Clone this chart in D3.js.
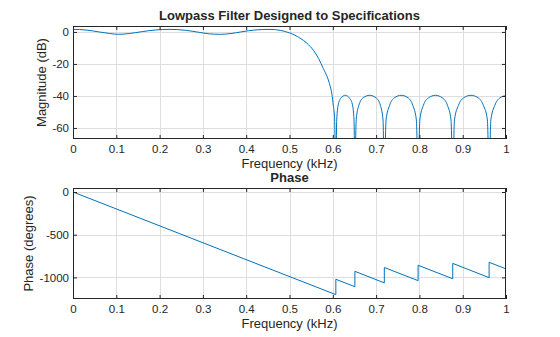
<!DOCTYPE html>
<html>
<head>
<meta charset="utf-8">
<script src="https://cdn.jsdelivr.net/npm/d3@7"></script>
<style>
  html, body { margin: 0; padding: 0; background: #fff; }
  svg { display: block; font-family: "Liberation Sans", Arial, Helvetica, sans-serif; }
</style>
</head>
<body>
<svg id="chart" width="560" height="337"></svg>
<script>
// Magnitude response (dB) sampled along frequency (kHz)
const magFreq = [
  0, 0.03, 0.06, 0.085, 0.105, 0.13, 0.16, 0.19, 0.224, 0.26, 0.29, 0.315, 0.34, 0.365, 0.39, 0.42, 0.455, 0.48, 0.5,
  0.524, 0.54, 0.555, 0.567, 0.578, 0.587, 0.594, 0.598, 0.601, 0.604, 0.607,
  0.609, 0.613, 0.619, 0.629, 0.638, 0.645, 0.649, 0.651,
  0.654, 0.660, 0.670, 0.685, 0.700, 0.710, 0.716, 0.719,
  0.723, 0.731, 0.742, 0.758, 0.774, 0.785, 0.793, 0.797,
  0.801, 0.809, 0.821, 0.837, 0.853, 0.865, 0.873, 0.877,
  0.881, 0.890, 0.902, 0.919, 0.936, 0.948, 0.957, 0.961,
  0.965, 0.974, 0.986, 1.0
];
const magDb = [
  1.6, 1.2, 0.0, -1.0, -1.5, -1.0, 0.2, 1.2, 1.6, 1.0, -0.2, -1.2, -1.5, -1.0, 0.1, 1.2, 1.6, 0.9, -0.6,
  -3.8, -7.0, -11.4, -16.5, -22.8, -28.0, -34.0, -39.0, -45.6, -53.0, -90,
  -55, -45, -41.2, -39.6, -41.2, -45, -55, -90,
  -55, -46, -41.2, -39.6, -41.2, -46, -55, -90,
  -55, -46, -41.2, -39.6, -41.2, -46, -55, -90,
  -55, -46, -41.2, -39.6, -41.2, -46, -55, -90,
  -55, -46, -41.2, -39.6, -41.2, -46, -55, -90,
  -55, -46, -41.2, -39.8
];

// Phase response (degrees): linear segments with +180 jumps at the stopband zeros
const phaseFreq = [0, 0.607, 0.607, 0.651, 0.651, 0.719, 0.719, 0.797, 0.797, 0.877, 0.877, 0.961, 0.961, 1.0];
const phaseDeg  = [0, -1202, -1022, -1109, -929, -1064, -884, -1038, -858, -1016, -836, -1003, -823, -900];

// Tick values
const freqTicks = [0, 0.1, 0.2, 0.3, 0.4, 0.5, 0.6, 0.7, 0.8, 0.9, 1];
const magTicks = [0, -20, -40, -60];
const phaseTicks = [0, -500, -1000];

const lineColor = "#0072BD";
const axisColor = "#262626";
const gridColor = "#dedede";

const svg = d3.select("#chart");
const left = 73, right = 506;

function panel(cfg) {
  const x = d3.scaleLinear().domain([0, 1]).range([left, right]);
  const y = d3.scaleLinear().domain(cfg.yDomain).range([cfg.bottom, cfg.top]);
  const g = svg.append("g");
  const clipId = "clip-" + cfg.id;
  svg.append("clipPath").attr("id", clipId)
    .append("rect").attr("x", left).attr("y", cfg.top)
    .attr("width", right - left).attr("height", cfg.bottom - cfg.top);

  // grid
  g.append("g").selectAll("line").data(freqTicks.slice(1, -1)).join("line")
    .attr("x1", d => Math.round(x(d)) + 0.5).attr("x2", d => Math.round(x(d)) + 0.5)
    .attr("y1", cfg.top).attr("y2", cfg.bottom)
    .attr("stroke", gridColor).attr("stroke-width", 1);
  g.append("g").selectAll("line").data(cfg.yTicks).join("line")
    .attr("y1", d => Math.round(y(d)) + 0.5).attr("y2", d => Math.round(y(d)) + 0.5)
    .attr("x1", left).attr("x2", right)
    .attr("stroke", gridColor).attr("stroke-width", 1);

  // data line
  const pts = cfg.xs.map((d, i) => [d, cfg.ys[i]]);
  g.append("path").datum(pts)
    .attr("clip-path", `url(#${clipId})`)
    .attr("fill", "none").attr("stroke", lineColor).attr("stroke-width", 1)
    .attr("d", d3.line().x(d => x(d[0])).y(d => y(d[1])).curve(cfg.curve));

  // axes (inward ticks, boxed)
  const tk = 4;
  const plain = d => String(d);
  const xb = g.append("g").attr("transform", `translate(0,${cfg.bottom})`)
    .call(d3.axisBottom(x).tickValues(freqTicks).tickSize(-tk).tickPadding(8).tickFormat(plain));
  const xt = g.append("g").attr("transform", `translate(0,${cfg.top})`)
    .call(d3.axisTop(x).tickValues(freqTicks).tickSize(-tk).tickFormat(""));
  const yl = g.append("g").attr("transform", `translate(${left},0)`)
    .call(d3.axisLeft(y).tickValues(cfg.yTicks).tickSize(-tk).tickPadding(4).tickFormat(plain));
  const yr = g.append("g").attr("transform", `translate(${right},0)`)
    .call(d3.axisRight(y).tickValues(cfg.yTicks).tickSize(-tk).tickFormat(""));
  [xb, xt, yl, yr].forEach(a => {
    a.select(".domain").remove();
    a.selectAll("line").attr("stroke", axisColor);
    a.selectAll("text").attr("fill", axisColor).attr("font-size", 11.5)
      .attr("font-family", "Liberation Sans, Arial, sans-serif");
  });
  xb.selectAll("text").attr("dy", "0.5em");
  g.append("rect").attr("x", left + 0.5).attr("y", cfg.top + 0.5)
    .attr("width", right - left - 1).attr("height", cfg.bottom - cfg.top - 1)
    .attr("fill", "none").attr("stroke", axisColor).attr("stroke-width", 1);

  // labels
  g.append("text").attr("x", (left + right) / 2).attr("y", cfg.top - 6)
    .attr("text-anchor", "middle").attr("font-weight", "bold").attr("font-size", 13)
    .attr("fill", axisColor).text(cfg.title);
  g.append("text").attr("x", (left + right) / 2).attr("y", cfg.bottom + 29)
    .attr("text-anchor", "middle").attr("font-size", 13)
    .attr("fill", axisColor).text("Frequency (kHz)");
  g.append("text")
    .attr("transform", `translate(${cfg.ylabelX},${(cfg.top + cfg.bottom) / 2}) rotate(-90)`)
    .attr("text-anchor", "middle").attr("font-size", 13)
    .attr("fill", axisColor).text(cfg.ylabel);
}

panel({
  id: "mag", top: 26, bottom: 139, yDomain: [-66.9, 3.7], yTicks: magTicks,
  xs: magFreq, ys: magDb, curve: d3.curveMonotoneX,
  title: "Lowpass Filter Designed to Specifications", ylabel: "Magnitude (dB)", ylabelX: 46
});
panel({
  id: "phase", top: 188, bottom: 299, yDomain: [-1253, 47], yTicks: phaseTicks,
  xs: phaseFreq, ys: phaseDeg, curve: d3.curveLinear,
  title: "Phase", ylabel: "Phase (degrees)", ylabelX: 33
});
</script>
</body>
</html>
